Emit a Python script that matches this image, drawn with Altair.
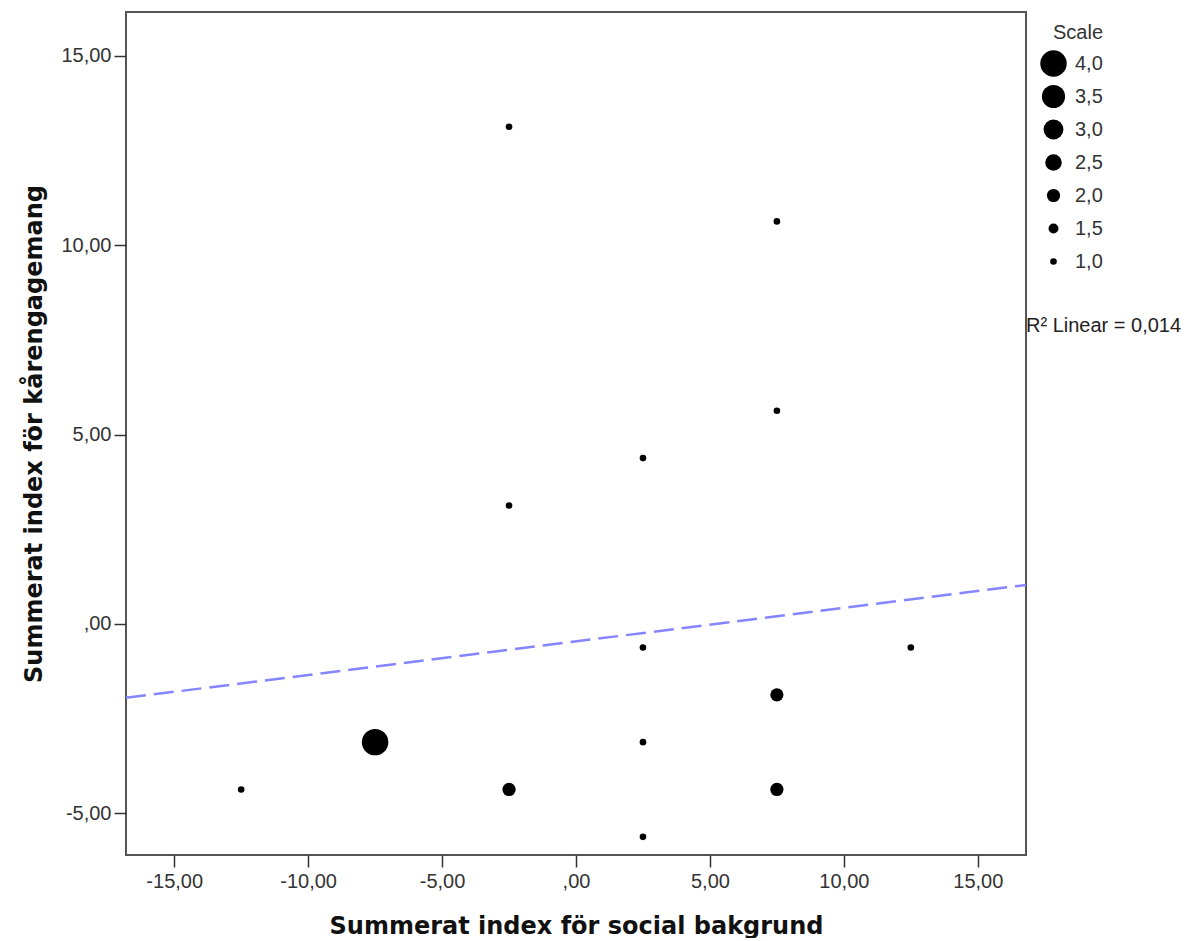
import altair as alt
import pandas as pd

# Data
x_vals = [-2.5, 7.5, 7.5, 2.5, -2.5, 2.5, 12.5, 7.5, -7.5, 2.5, -12.5, -2.5, 7.5, 2.5]
y_vals = [13.13, 10.63, 5.63, 4.38, 3.13, -0.62, -0.62, -1.87, -3.12, -3.12, -4.37, -4.37, -4.37, -5.62]
scale_vals = [1, 1, 1, 1, 1, 1, 1, 2, 4, 1, 1, 2, 2, 1]

fit_x = [-16.8, 16.8]
fit_y = [-1.95, 1.03]

x_ticks = [-15, -10, -5, 0, 5, 10, 15]
y_ticks = [-5, 0, 5, 10, 15]
legend_values = [4.0, 3.5, 3.0, 2.5, 2.0, 1.5, 1.0]
x_domain = [-16.8, 16.8]
y_domain = [-6.1, 16.16]
r2_text = "R² Linear = 0,014"

pts = pd.DataFrame({"x": x_vals, "y": y_vals, "Scale": scale_vals})
fit = pd.DataFrame({"x": fit_x, "y": fit_y})

W, H = 900, 843
lab_expr = ("datum.value == 0 ? ',00' : "
            "replace(replace(format(datum.value, '.2f'), '.', ','), '\u2212', '-')")

xscale = alt.Scale(domain=x_domain, nice=False, zero=False)
yscale = alt.Scale(domain=y_domain, nice=False, zero=False)

xaxis = alt.Axis(values=x_ticks, labelExpr=lab_expr, grid=False, tickSize=12,
                 tickWidth=1.5, tickColor="#333", domain=False, labelFont="Liberation Sans",
                 labelFontSize=20, labelColor="#333", labelPadding=4,
                 title="Summerat index för social bakgrund", titleFont="DejaVu Sans",
                 titleFontSize=24, titleFontWeight="bold", titleColor="#111",
                 titlePadding=23)
yaxis = alt.Axis(values=y_ticks, labelExpr=lab_expr, grid=False, tickSize=12,
                 tickWidth=1.5, tickColor="#333", domain=False, labelFont="Liberation Sans",
                 labelFontSize=20, labelColor="#333", labelPadding=3,
                 title="Summerat index för kårengagemang", titleFont="DejaVu Sans",
                 titleFontSize=24, titleFontWeight="bold", titleColor="#111",
                 titlePadding=14)

points = alt.Chart(pts).mark_circle(color="black", opacity=1).encode(
    x=alt.X("x:Q", scale=xscale, axis=xaxis),
    y=alt.Y("y:Q", scale=yscale, axis=yaxis),
    size=alt.Size("Scale:Q",
                  scale=alt.Scale(type="pow", exponent=2, domain=[0, 4], range=[0, 700]),
                  legend=alt.Legend(values=legend_values, title="Scale",
                                    labelExpr="replace(format(datum.value, '.1f'), '.', ',')",
                                    orient="none", legendX=914, legendY=11,
                                    titleFont="Liberation Sans", titleFontSize=20,
                                    titleFontWeight="normal", titleColor="#333",
                                    titleAnchor="end",
                                    labelFont="Liberation Sans", labelFontSize=20,
                                    labelColor="#333", symbolFillColor="black",
                                    symbolStrokeWidth=0, symbolOpacity=1,
                                    clipHeight=33, rowPadding=0, labelOffset=8,
                                    titlePadding=4)),
)

line = alt.Chart(fit).mark_line(color="#8585ff", strokeWidth=2.5, strokeDash=[20, 8]).encode(
    x=alt.X("x:Q", scale=xscale),
    y=alt.Y("y:Q", scale=yscale),
)

r2 = alt.Chart(pd.DataFrame({"t": [r2_text]})).mark_text(
    align="left", baseline="middle", font="Liberation Sans", fontSize=20, color="#222"
).encode(text="t:N", x=alt.value(W), y=alt.value(314))

chart = alt.layer(line, points, r2).properties(
    width=W, height=H, padding={"left": 14, "top": 4, "right": 0, "bottom": 0}
).configure(
    background="white",
    view=alt.ViewConfig(stroke="#555", strokeWidth=2),
)

chart.save("out.html", embed_options={"renderer": "svg", "actions": False})
